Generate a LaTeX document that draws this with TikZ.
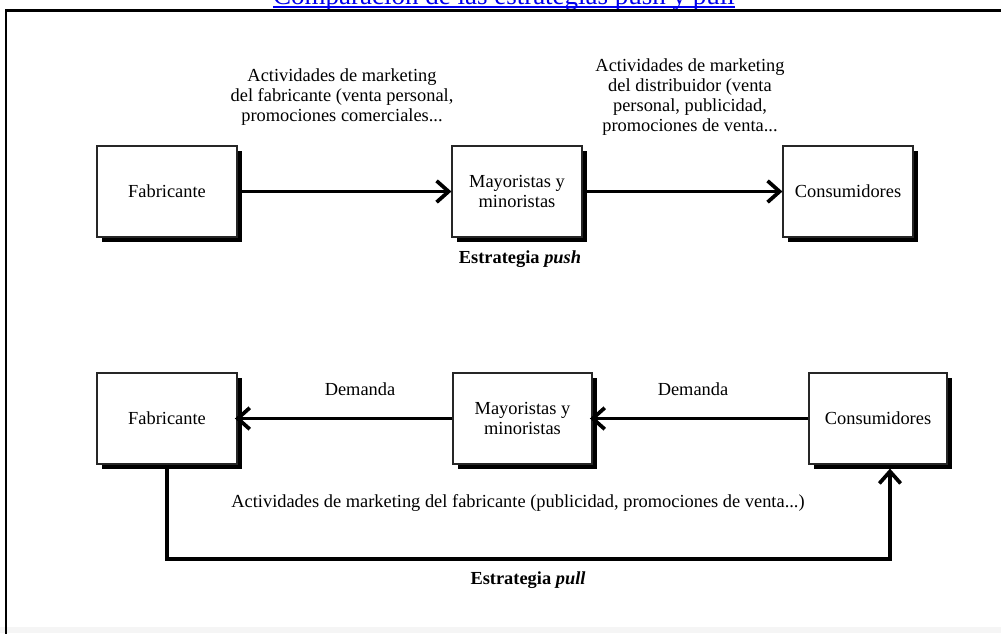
\documentclass[tikz,border=0pt]{standalone}
\usepackage{fontspec}
\setmainfont{Liberation Serif}
\usetikzlibrary{arrows.meta,shadows}
\definecolor{linkblue}{RGB}{0,0,238}
\begin{document}
\begin{tikzpicture}[x=0.75pt,y=-0.75pt,
  box/.style={draw=black!85, line width=0.9pt, fill=white, align=center,
    inner sep=0pt, minimum height=68.25pt,
    font=\fontsize{13.8}{15}\selectfont,
    general shadow={fill=black, shadow xshift=3.4pt, shadow yshift=-3.4pt}},
  flow/.style={line width=2.8pt,
    -{Straight Barb[length=9pt,width=16pt,line width=2.8pt]}},
  lbl/.style={align=center, inner sep=0pt, font=\fontsize{13.8}{15}\selectfont},
  strat/.style={inner sep=0pt, font=\fontsize{13.8}{15}\selectfont\bfseries},
  frame/.style={line width=2.2pt, black}
]
\useasboundingbox (0,0) rectangle (1001,633);
\fill[black!4] (0,627) rectangle (1001,633);

% heading link, partly cut off by the page edge
\node[anchor=base, inner sep=0pt, text=linkblue,
      font=\fontsize{20.25}{24}\selectfont] (title) at (504,4)
  {Comparación de las estrategias push y pull};
\draw[linkblue, line width=1.2pt]
  ([yshift=-2.3pt]title.base west) -- ([yshift=-2.3pt]title.base east);

% outer frame
\draw[frame] (6,640) -- (6,10.5) -- (1010,10.5);

% push strategy
\node[box, minimum width=105pt]  (fab1) at (167,191.5) {Fabricante};
\node[box, minimum width=97.5pt] (may1) at (517,191.5) {Mayoristas y\\minoristas};
\node[box, minimum width=97.5pt] (con1) at (848,191.5) {Consumidores};

\draw[flow] (fab1) -- (may1);
\draw[flow] (may1) -- (con1);

\node[lbl] (act1) at (342,97)
  {Actividades de marketing\\del fabricante (venta personal,\\promociones comerciales...};
\node[lbl] (act2) at (690,97)
  {Actividades de marketing\\del distribuidor (venta\\personal, publicidad,\\promociones de venta...};
\node[strat] (push) at (520,259) {Estrategia \textit{push}};

% pull strategy
\node[box, minimum width=105pt]   (fab2) at (167,418.5) {Fabricante};
\node[box, minimum width=104.25pt] (may2) at (522.5,418.5) {Mayoristas y\\minoristas};
\node[box, minimum width=103.5pt] (con2) at (878,418.5) {Consumidores};

\draw[flow, shorten >=-2pt] (may2) -- (fab2);
\draw[flow, shorten >=-2pt] (con2) -- (may2);

\node[lbl] (dem1) at (360,389) {Demanda};
\node[lbl] (dem2) at (693,389) {Demanda};

\coordinate (loop) at (890,559);
\draw[flow] (fab2.south) |- (loop) -- ([yshift=-3pt]loop |- con2.south);

\node[lbl] (act3) at (518,503)
  {Actividades de marketing del fabricante (publicidad, promociones de venta...)};
\node[strat] (pull) at (528,580) {Estrategia \textit{pull}};
\end{tikzpicture}
\end{document}
